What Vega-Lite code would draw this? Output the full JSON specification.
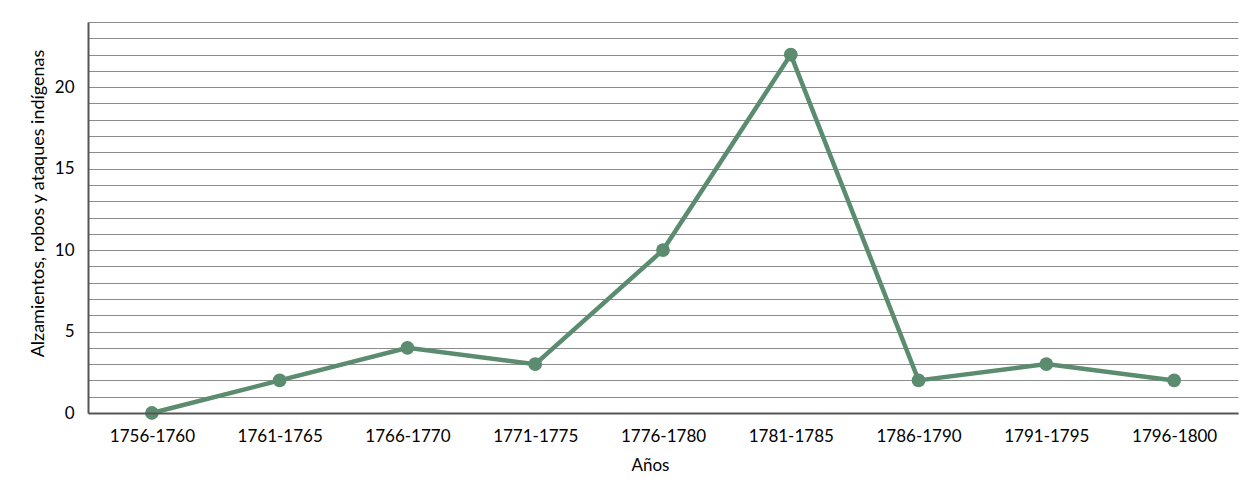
{
  "$schema": "https://vega.github.io/schema/vega-lite/v6.json",
  "width": 1150,
  "height": 391,
  "autosize": {"type": "none"},
  "padding": {"left": 88, "top": 22, "right": 22, "bottom": 88},
  "background": "white",
  "config": {
    "view": {"stroke": null},
    "font": "Lato"
  },
  "data": {
    "values": [
      {"periodo": "1756-1760", "valor": 0},
      {"periodo": "1761-1765", "valor": 2},
      {"periodo": "1766-1770", "valor": 4},
      {"periodo": "1771-1775", "valor": 3},
      {"periodo": "1776-1780", "valor": 10},
      {"periodo": "1781-1785", "valor": 22},
      {"periodo": "1786-1790", "valor": 2},
      {"periodo": "1791-1795", "valor": 3},
      {"periodo": "1796-1800", "valor": 2}
    ]
  },
  "mark": {"type": "line", "color": "#5B8C6F", "strokeWidth": 4.5, "point": {"filled": true, "size": 190, "color": "#5B8C6F", "opacity": 1}},
  "encoding": {
    "x": {
      "field": "periodo",
      "type": "ordinal",
      "sort": null,
      "scale": {"type": "point", "padding": 0.5},
      "axis": {
        "title": "Años",
        "titleFontSize": 17,
        "titleFontWeight": "normal",
        "titleColor": "#000",
        "titleX": 562,
        "titleY": 52,
        "titleBaseline": "middle",
        "labelAngle": 0,
        "labelFontSize": 17,
        "labelColor": "#000",
        "labelPadding": 15,
        "ticks": false,
        "domainColor": "#555",
        "domainWidth": 2,
        "grid": false,
        "zindex": 1
      }
    },
    "y": {
      "field": "valor",
      "type": "quantitative",
      "scale": {"domain": [0, 24], "nice": false},
      "axis": {
        "title": "Alzamientos, robos y ataques indígenas",
        "titleFontSize": 18,
        "titleFontWeight": "normal",
        "titleColor": "#000",
        "titleAngle": -90,
        "titleX": -50,
        "titleY": 181,
        "titleAlign": "center",
        "titleBaseline": "middle",
        "values": [0, 1, 2, 3, 4, 5, 6, 7, 8, 9, 10, 11, 12, 13, 14, 15, 16, 17, 18, 19, 20, 21, 22, 23, 24],
        "labelExpr": "datum.value % 5 === 0 ? datum.label : ''",
        "labelFontSize": 17,
        "labelColor": "#000",
        "labelPadding": 14,
        "ticks": false,
        "domainColor": "#555",
        "domainWidth": 2,
        "grid": true,
        "gridColor": "#8c8c8c",
        "gridWidth": 1,
        "gridOpacity": 1
      }
    }
  }
}
